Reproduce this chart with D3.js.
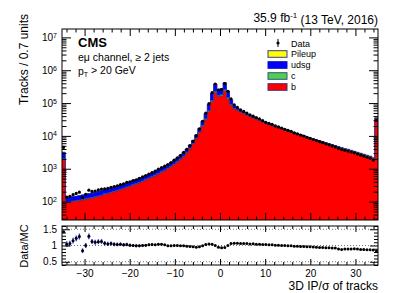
<!DOCTYPE html>
<html><head><meta charset="utf-8">
<script src="https://cdn.jsdelivr.net/npm/d3@7"></script>
<style>body{margin:0;background:#fff;} svg{display:block;font-family:"Liberation Sans",Arial,Helvetica,sans-serif;}</style>
</head><body><svg id="c" width="407" height="293"></svg>
<script>
// ---- data ----
const xMin = -35, xMax = 35, nBins = 100;
const b = [1960,92,95,99,102,106,111,116,122,127,134,143,150,165,173,185,198,212,228,244,268,287,315,337,369,405,457,500,548,616,690,775,870,998,1146,1347,1582,1902,2340,3026,4041,5578,8147,12565,19726,31109,54720,109725,205308,157800,165240,233464,132878,85612,66544,59495,52403,47232,42561,37938,34978,31896,29090,25926,23362,21799,20348,18554,17317,16163,14899,13903,12972,11835,11045,10302,9616,8773,8275,7722,7207,6725,6277,5858,5466,5102,4761,4443,4147,3870,3696,3449,3219,3004,2803,2616,2442,2279,2031,33706];
const udsg = [1090,35,36,37,38,40,42,44,46,48,50,54,56,56,59,63,67,72,77,83,91,97,107,115,126,137,139,152,167,187,210,236,264,304,349,410,481,578,711,816,1023,1413,2198,3821,7299,14502,31646,77805,152080,89420,93636,158422,82476,34245,13642,7610,4769,3726,2900,2585,2015,1838,1676,1494,1130,1055,985,898,838,782,586,547,511,466,435,406,379,345,235,219,205,191,178,166,155,145,135,126,118,110,105,98,91,85,80,74,69,65,58,958];
const c = [95,4,4,4.2,4.4,4.5,4.7,5,5.2,5.5,5.7,6.1,6.4,6.9,7.2,7.7,8.3,8.9,9.5,10,11,12,13,14,15,17,18.5,20,22,25,28,31,35,40,46,55,64,77,95,119,157,217,322,509,986,1914,4104,9975,19010,13150,13770,20845,11455,5036,2495,1730,1472,1312,1122,1001,874,797,727,648,553,516,481,439,410,382,317,296,276,252,235,219,205,187,174,163,152,142,132,123,115,107,100,94,87,81,78,73,68,63,59,55,51,48,43,710];
const pileup = [15,0.7,0.7,0.7,0.7,0.8,0.8,0.8,0.9,0.9,1,1,1.1,1.1,1.2,1.3,1.4,1.5,1.6,1.7,1.9,2,2.2,2.3,2.6,2.8,3.1,3.4,3.7,4.2,4.7,5.2,5.9,6.7,7.7,9,11,13,16,20,26,36,54,85,169,335,730,1995,3802,2630,2754,4169,2291,1007,499,346,236,210,187,167,152,139,126,113,75,70,66,60,56,52,48,44,41,38,35,33,31,28,26,24,23,21,20,18,17,16,15,14,13,12,12,11,10,9.5,8.9,8.3,7.7,7.2,6.4,106];
const data = [4487,137,144,162,177,193,133,166,223,204,210,228,240,245,252,272,286,304,329,346,383,402,437,463,508,562,623,690,763,849,970,1089,1199,1336,1534,1820,2138,2544,3130,3901,5091,6954,10184,16301,27898,49296,95760,207480,380200,249850,256122,391886,229100,133454,89003,74023,62413,55629,49576,43775,39921,36057,32885,29025,25874,23909,22318,20150,18806,17380,15850,14642,13662,12338,11515,10631,9923,8960,8362,7722,7207,6654,6211,5734,5351,4940,4611,4163,3841,3626,3462,3232,3049,2814,2597,2424,2236,2087,1839,29448];
const xTicks = [-30,-20,-10,0,10,20,30];
const yDecades = [1e2,1e3,1e4,1e5,1e6,1e7];
const ratioTicks = [0.5,1,1.5];
const legendItems = [
  {label:"Pileup", fill:"#ffff00", stroke:"#3a3a9a"},
  {label:"udsg", fill:"#0000ff", stroke:"#1010b0"},
  {label:"c", fill:"#55cc55", stroke:"#225e78"},
  {label:"b", fill:"#ff0000", stroke:"#4a2a7a"}
];

// ---- layout ----
const svg = d3.select("#c");
const L = 62, R = 378, T = 29, MB = 220, RT = 226, RB = 265;
const binW = (xMax - xMin) / nBins;
const edges = d3.range(nBins + 1).map(i => xMin + i * binW);
const centers = d3.range(nBins).map(i => xMin + (i + 0.5) * binW);

const x = d3.scaleLinear().domain([xMin, xMax]).range([L, R]);
const y = d3.scaleLog().domain([27.5, 1.8e7]).range([MB, T]);
const yr = d3.scaleLinear().domain([0.4, 1.6]).range([RB, RT]);

const defs = svg.append("defs");
defs.append("clipPath").attr("id","cm").append("rect").attr("x",L).attr("y",T).attr("width",R-L).attr("height",MB-T);
defs.append("clipPath").attr("id","cr").append("rect").attr("x",L).attr("y",RT).attr("width",R-L).attr("height",RB-RT);

// stacked cumulative (bottom -> top): b, c, udsg, pileup
const series = [
  {vals:b, fill:"#ff0000", stroke:"#4a2a7a"},
  {vals:c, fill:"#55cc55", stroke:"#225e78"},
  {vals:udsg, fill:"#0000ff", stroke:"#1010b0"},
  {vals:pileup, fill:"#ffff00", stroke:"#3a3a9a"}
];
let cum = new Array(nBins).fill(0);
series.forEach(s => { cum = cum.map((v,i) => v + s.vals[i]); s.cum = cum.slice(); });
const total = series[series.length-1].cum;

function stepPts(vals){ const p=[]; vals.forEach((v,i)=>{p.push([edges[i],v]);p.push([edges[i+1],v]);}); return p; }
const area = d3.area().x(d=>x(d[0])).y0(MB+2).y1(d=>y(d[1]));
const line = d3.line().x(d=>x(d[0])).y(d=>y(d[1]));

const gm = svg.append("g").attr("clip-path","url(#cm)");
series.slice().reverse().forEach(s => {
  const pts = stepPts(s.cum);
  gm.append("path").attr("d", area(pts)).attr("fill", s.fill);
  gm.append("path").attr("d", line(pts)).attr("fill","none").attr("stroke", s.stroke).attr("stroke-width",0.7);
});

// data points
const gd = gm.append("g");
data.forEach((v,i) => {
  const e = Math.sqrt(v);
  gd.append("line").attr("x1",x(centers[i])).attr("x2",x(centers[i]))
    .attr("y1",y(v+e)).attr("y2",y(Math.max(v-e,1))).attr("stroke","#000").attr("stroke-width",1);
  gd.append("circle").attr("cx",x(centers[i])).attr("cy",y(v)).attr("r",1.6).attr("fill","#000");
});

// ---- main axes ----
function minorLog(){ const m=[]; for(let d=10; d<=1e7; d*=10){ for(let k=2;k<=9;k++){ const v=d*k; if(v>=y.domain()[0] && v<=y.domain()[1]) m.push(v);} } return m; }
const xMinor = d3.range(-34, 35, 2).filter(v => xTicks.indexOf(v) < 0);
const noLab = () => "";
function axisG(gen, tx, ty){ const g = svg.append("g").attr("transform",`translate(${tx},${ty})`).call(gen); g.select(".domain").remove(); g.selectAll("line").attr("stroke","#000"); return g; }

// main x (bottom, top)
axisG(d3.axisTop(x).tickValues(xTicks).tickSize(7).tickFormat(noLab), 0, MB);
axisG(d3.axisTop(x).tickValues(xMinor).tickSize(3.5).tickFormat(noLab), 0, MB);
axisG(d3.axisBottom(x).tickValues(xTicks).tickSize(7).tickFormat(noLab), 0, T);
axisG(d3.axisBottom(x).tickValues(xMinor).tickSize(3.5).tickFormat(noLab), 0, T);
// main y
const gyl = axisG(d3.axisLeft(y).tickValues(yDecades).tickSizeInner(-9).tickSizeOuter(0).tickPadding(5).tickFormat(noLab), L, 0);
gyl.selectAll(".tick text").each(function(d){
  const t = d3.select(this).attr("font-size","10px").attr("fill","#000").attr("font-family",null);
  t.append("tspan").text("10");
  t.append("tspan").attr("dy","-0.45em").attr("font-size","7px").text(Math.round(Math.log10(d)));
});
axisG(d3.axisRight(y).tickValues(minorLog()).tickSize(4.5).tickFormat(noLab), L, 0);
axisG(d3.axisLeft(y).tickValues(yDecades).tickSize(9).tickFormat(noLab), R, 0);
axisG(d3.axisLeft(y).tickValues(minorLog()).tickSize(4.5).tickFormat(noLab), R, 0);
svg.append("rect").attr("x",L).attr("y",T).attr("width",R-L).attr("height",MB-T).attr("fill","none").attr("stroke","#000").attr("stroke-width",1);

// ---- ratio panel ----
const grr = svg.append("g").attr("clip-path","url(#cr)");
ratioTicks.forEach(v => grr.append("line").attr("x1",L).attr("x2",R).attr("y1",yr(v)).attr("y2",yr(v))
  .attr("stroke","#777").attr("stroke-width",1).attr("stroke-dasharray","1,2"));
data.forEach((v,i) => {
  const r = v / total[i], e = Math.sqrt(v) / total[i];
  grr.append("line").attr("x1",x(centers[i])).attr("x2",x(centers[i])).attr("y1",yr(r+e)).attr("y2",yr(r-e))
    .attr("stroke","#3333dd").attr("stroke-width",1.4);
  grr.append("circle").attr("cx",x(centers[i])).attr("cy",yr(r)).attr("r",1.5).attr("fill","#000");
});
const ratioMinor = d3.range(0.4, 1.61, 0.1).map(v=>+v.toFixed(1)).filter(v => ratioTicks.indexOf(v) < 0);
const gxr = axisG(d3.axisBottom(x).tickValues(xTicks).tickSizeInner(-6).tickSizeOuter(0).tickPadding(5), 0, RB);
gxr.selectAll(".tick text").attr("font-size","10px").attr("fill","#000").attr("font-family",null);
axisG(d3.axisBottom(x).tickValues(xMinor).tickSize(-3).tickFormat(noLab), 0, RB);
axisG(d3.axisTop(x).tickValues(xTicks).tickSize(-6).tickFormat(noLab), 0, RT);
axisG(d3.axisTop(x).tickValues(xMinor).tickSize(-3).tickFormat(noLab), 0, RT);
const gyr = axisG(d3.axisLeft(yr).tickValues(ratioTicks).tickSizeInner(-8).tickSizeOuter(0).tickPadding(5).tickFormat(d3.format("")), L, 0);
gyr.selectAll(".tick text").attr("font-size","10px").attr("fill","#000").attr("font-family",null);
axisG(d3.axisRight(yr).tickValues(ratioMinor).tickSize(4).tickFormat(noLab), L, 0);
axisG(d3.axisLeft(yr).tickValues(ratioTicks).tickSize(8).tickFormat(noLab), R, 0);
axisG(d3.axisLeft(yr).tickValues(ratioMinor).tickSize(4).tickFormat(noLab), R, 0);
svg.append("rect").attr("x",L).attr("y",RT).attr("width",R-L).attr("height",RB-RT).attr("fill","none").attr("stroke","#000").attr("stroke-width",1);

// ---- texts ----
const lumi = svg.append("text").attr("x",R).attr("y",22).attr("text-anchor","end").attr("font-size","12px");
lumi.append("tspan").text("35.9 fb");
lumi.append("tspan").attr("dy","-0.45em").attr("font-size","8px").text("-1");
lumi.append("tspan").attr("dy","0.45em").text(" (13 TeV, 2016)");

svg.append("text").attr("transform",`translate(28,14) rotate(-90)`).attr("text-anchor","end").attr("font-size","12px").text("Tracks / 0.7 units");
svg.append("text").attr("transform",`translate(28,246) rotate(-90)`).attr("text-anchor","middle").attr("font-size","11px").text("Data/MC");
svg.append("text").attr("x",R).attr("y",290).attr("text-anchor","end").attr("font-size","12px").text("3D IP/σ of tracks");

svg.append("text").attr("x",78).attr("y",47).attr("font-size","13px").attr("font-weight","bold").text("CMS");
svg.append("text").attr("x",78).attr("y",61).attr("font-size","10.5px").text("eμ channel, ≥ 2 jets");
const pt = svg.append("text").attr("x",78).attr("y",75).attr("font-size","10.5px");
pt.append("tspan").text("p");
pt.append("tspan").attr("dy","0.3em").attr("font-size","7px").text("T");
pt.append("tspan").attr("dy","-0.3em").text(" > 20 GeV");

// ---- legend ----
const lg = svg.append("g");
lg.append("line").attr("x1",278).attr("x2",278).attr("y1",39).attr("y2",47).attr("stroke","#000").attr("stroke-width",1);
lg.append("circle").attr("cx",278).attr("cy",43).attr("r",1.6).attr("fill","#000");
lg.append("text").attr("x",291).attr("y",46.5).attr("font-size","9px").text("Data");
legendItems.forEach((it,k) => {
  const cy = 54 + k * 11;
  lg.append("rect").attr("x",268).attr("y",cy-3.3).attr("width",19).attr("height",6.6)
    .attr("fill",it.fill).attr("stroke",it.stroke).attr("stroke-width",1);
  lg.append("text").attr("x",291).attr("y",cy+3.3).attr("font-size","9px").text(it.label);
});
</script>
</body></html>
